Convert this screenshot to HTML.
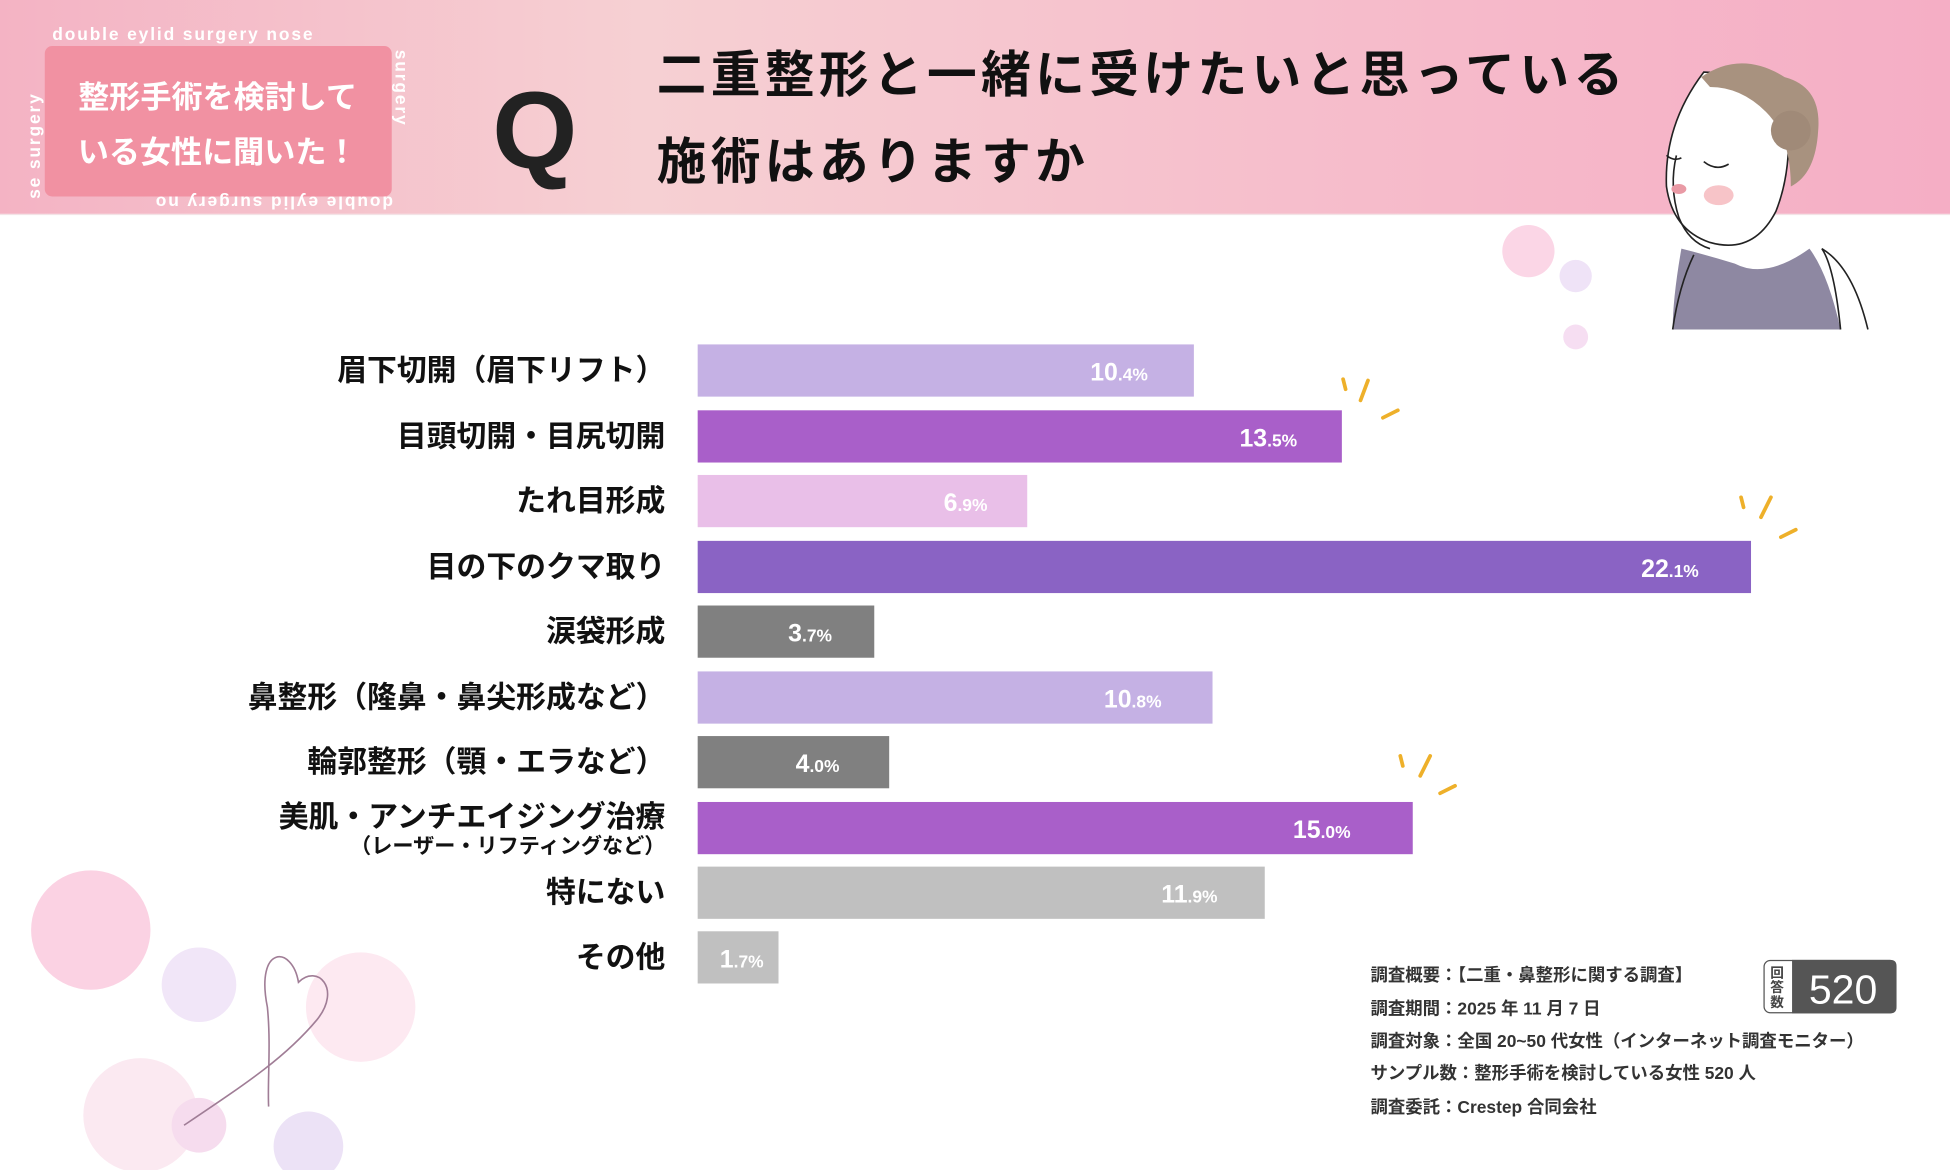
<!DOCTYPE html>
<html><head><meta charset="utf-8"><style>
html,body{margin:0;padding:0;background:#fff;}
svg{display:block;}
text{font-family:"Liberation Sans","Noto Sans CJK JP",sans-serif;}
.lab{font-size:24px;font-weight:bold;fill:#111;text-anchor:end;}
.val{font-size:20px;fill:#fff;text-anchor:end;font-weight:bold;}
.val tspan.s{font-size:14px;}
.ft{font-size:14px;fill:#333;font-weight:bold;}
</style></head><body>
<svg width="1950" height="1170" viewBox="0 0 1568 941" preserveAspectRatio="none" xmlns="http://www.w3.org/2000/svg">
<defs>
<linearGradient id="hg" x1="0" x2="1" y1="0" y2="0">
<stop offset="0" stop-color="#f4b3c4"/><stop offset="0.33" stop-color="#f6d0d3"/><stop offset="0.7" stop-color="#f6bccb"/><stop offset="1" stop-color="#f5aec5"/>
</linearGradient>
</defs>
<rect width="1568" height="941" fill="#fff"/>
<rect width="1568" height="172" fill="url(#hg)"/>
<line x1="0" y1="172.5" x2="1568" y2="172.5" stroke="#f3e3e6" stroke-width="1"/>
<rect x="36" y="37" width="279" height="121" rx="6" fill="#f191a2"/>
<text x="175" y="87" font-size="25" font-weight="bold" fill="#fff" text-anchor="middle">整形手術を検討して</text>
<text x="175" y="131" font-size="25" font-weight="bold" fill="#fff" text-anchor="middle">いる女性に聞いた！</text>
<text x="42" y="32" font-size="14" font-weight="bold" fill="#fff" letter-spacing="1.5">double eylid surgery   nose</text>
<text x="0" y="0" font-size="14" font-weight="bold" fill="#fff" letter-spacing="1.5" transform="translate(316 158) rotate(180)">double eylid surgery      no</text>
<text font-size="14" font-weight="bold" fill="#fff" letter-spacing="1.5" transform="translate(32 160) rotate(-90)">se surgery</text>
<text font-size="14" font-weight="bold" fill="#fff" letter-spacing="1.5" transform="translate(318 40) rotate(90)">surgery</text>
<text x="430" y="135" font-size="88" font-weight="bold" fill="#222" text-anchor="middle">Q</text>
<text x="528" y="74" font-size="40" font-weight="bold" fill="#111" letter-spacing="3.5">二重整形と一緒に受けたいと思っている</text>
<text x="528" y="144" font-size="40" font-weight="bold" fill="#111" letter-spacing="3.5">施術はありますか</text>
<circle cx="1229" cy="202" r="21" fill="#fbd6e6"/>
<circle cx="1267" cy="222" r="13" fill="#efe3f7"/>
<circle cx="1267" cy="271" r="10" fill="#f6def2"/>
<circle cx="73" cy="748" r="48" fill="#fbd2e3"/>
<circle cx="160" cy="792" r="30" fill="#f1e6f8"/>
<circle cx="290" cy="810" r="44" fill="#fde9f1"/>
<circle cx="113" cy="897" r="46" fill="#fbe9f1"/>
<circle cx="160" cy="905" r="22" fill="#f6dcee"/>
<circle cx="248" cy="922" r="28" fill="#ece2f6"/>
<path d="M148 905 C 200 870, 230 850, 255 820 C 275 795, 255 775, 240 790 C 235 760, 205 760, 215 810 C 218 840, 215 870, 216 890" fill="none" stroke="#a07d96" stroke-width="1.3"/>
<g>
<path d="M1352 200 Q1345 240 1345 265 L1480 265 Q1470 220 1455 200 Q1420 225 1395 212 Q1372 205 1352 200Z" fill="#8e88a2"/>
<path d="M1345 265 Q1350 230 1362 205 M1480 265 Q1475 215 1465 200 Q1490 215 1502 265" fill="none" stroke="#222" stroke-width="1.3"/>
<path d="M1370 58 Q1338 100 1340 150 Q1345 185 1375 195 Q1410 205 1428 170 Q1440 140 1438 100 Q1425 60 1370 58Z" fill="#fff" stroke="#222" stroke-width="1.3"/>
<path d="M1368 62 Q1400 40 1435 62 Q1465 70 1462 105 Q1460 140 1440 150 Q1440 110 1420 90 Q1400 70 1375 70Z" fill="#a8927f"/>
<circle cx="1440" cy="105" r="16" fill="#a08a78"/>
<path d="M1348 125 Q1342 150 1350 175 Q1358 195 1375 200" fill="none" stroke="#222" stroke-width="1.3"/>
<ellipse cx="1382" cy="157" rx="12" ry="8" fill="#f7c4c8"/>
<ellipse cx="1350" cy="152" rx="6" ry="4" fill="#e99aa5"/>
<path d="M1370 130 Q1380 138 1390 132 M1340 125 Q1346 130 1352 127" fill="none" stroke="#222" stroke-width="1.3"/>
</g>
<g>
<rect x="561" y="277" width="399" height="42" fill="#c5b1e4"/>
<rect x="561" y="330" width="518" height="42" fill="#a95fc9"/>
<rect x="561" y="382" width="265" height="42" fill="#e9bfe8"/>
<rect x="561" y="435" width="847" height="42" fill="#8a63c4"/>
<rect x="561" y="487" width="142" height="42" fill="#808080"/>
<rect x="561" y="540" width="414" height="42" fill="#c5b1e4"/>
<rect x="561" y="592" width="154" height="42" fill="#808080"/>
<rect x="561" y="645" width="575" height="42" fill="#a95fc9"/>
<rect x="561" y="697" width="456" height="42" fill="#c0c0c0"/>
<rect x="561" y="749" width="65" height="42" fill="#c0c0c0"/>
</g>
<g>
<text x="535" y="306" class="lab">眉下切開（眉下リフト）</text>
<text x="535" y="359" class="lab">目頭切開・目尻切開</text>
<text x="535" y="411" class="lab">たれ目形成</text>
<text x="535" y="464" class="lab">目の下のクマ取り</text>
<text x="535" y="516" class="lab">涙袋形成</text>
<text x="535" y="569" class="lab">鼻整形（隆鼻・鼻尖形成など）</text>
<text x="535" y="621" class="lab">輪郭整形（顎・エラなど）</text>
<text x="535" y="665" class="lab">美肌・アンチエイジング治療</text>
<text x="535" y="686" class="lab" style="font-size:17px">（レーザー・リフティングなど）</text>
<text x="535" y="726" class="lab">特にない</text>
<text x="535" y="778" class="lab">その他</text>
</g>
<text class="val" x="923" y="306">10<tspan class="s">.4%</tspan></text>
<text class="val" x="1043" y="359">13<tspan class="s">.5%</tspan></text>
<text class="val" x="794" y="411">6<tspan class="s">.9%</tspan></text>
<text class="val" x="1366" y="464">22<tspan class="s">.1%</tspan></text>
<text class="val" x="669" y="516">3<tspan class="s">.7%</tspan></text>
<text class="val" x="934" y="569">10<tspan class="s">.8%</tspan></text>
<text class="val" x="675" y="621">4<tspan class="s">.0%</tspan></text>
<text class="val" x="1086" y="674">15<tspan class="s">.0%</tspan></text>
<text class="val" x="979" y="726">11<tspan class="s">.9%</tspan></text>
<text class="val" x="614" y="778">1<tspan class="s">.7%</tspan></text>
<g stroke="#eeb02a" stroke-width="3" stroke-linecap="round">
<path d="M1080 305 L1082 313 M1100 306 L1094 322 M1112 336 L1124 330"/>
<path d="M1400 400 L1402 408 M1424 400 L1416 416 M1432 432 L1444 426"/>
<path d="M1126 608 L1128 616 M1150 608 L1142 624 M1158 638 L1170 632"/>
</g>
<g>
<text x="1102" y="789" class="ft">調査概要：【二重・鼻整形に関する調査】</text>
<text x="1102" y="816" class="ft">調査期間：2025 年 11 月 7 日</text>
<text x="1102" y="842" class="ft">調査対象：全国 20~50 代女性（インターネット調査モニター）</text>
<text x="1102" y="868" class="ft">サンプル数：整形手術を検討している女性 520 人</text>
<text x="1102" y="895" class="ft">調査委託：Crestep 合同会社</text>
</g>
<rect x="1418.5" y="772.5" width="106" height="42" rx="5" fill="#fff" stroke="#555"/>
<path d="M1441 772 L1520 772 Q1525 772 1525 777 L1525 810 Q1525 815 1520 815 L1441 815Z" fill="#555"/>
<text x="1429" y="786" font-size="11" fill="#444" text-anchor="middle" font-weight="bold">回</text>
<text x="1429" y="798" font-size="11" fill="#444" text-anchor="middle" font-weight="bold">答</text>
<text x="1429" y="810" font-size="11" fill="#444" text-anchor="middle" font-weight="bold">数</text>
<text x="1482" y="807" font-size="33" fill="#fff" text-anchor="middle">520</text>
</svg>
</body></html>
